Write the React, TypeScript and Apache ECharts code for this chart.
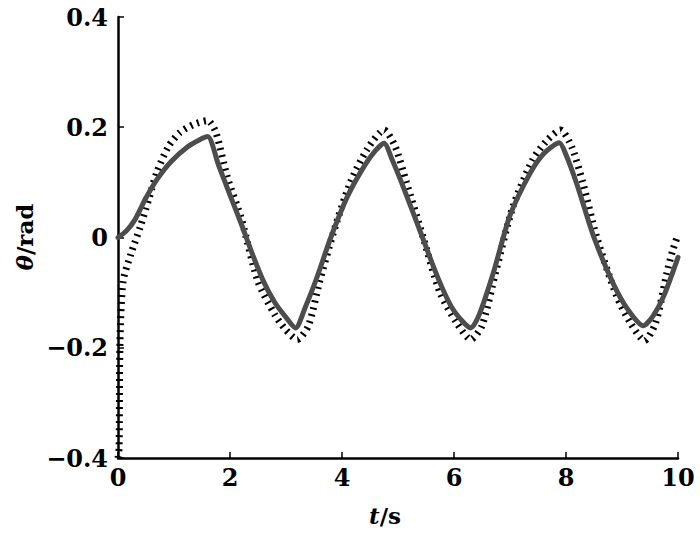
import React, { useEffect, useRef } from "react";
import * as echarts from "echarts";

// Measured angle (solid grey) – [t (s), θ (rad)]
const solidT = [0, 0.15, 0.3, 0.5, 0.7, 0.95, 1.25, 1.45, 1.6, 1.8, 2.0, 2.2, 2.4, 2.6, 2.8, 3.0, 3.17, 3.35, 3.55, 3.8, 4.1, 4.4, 4.6, 4.75, 4.9, 5.1, 5.4, 5.7, 5.95, 6.15, 6.3, 6.45, 6.7, 7.0, 7.35, 7.6, 7.88, 8.0, 8.2, 8.5, 8.85, 9.1, 9.38, 9.55, 9.75, 10];
const solidTheta = [0, 0.012, 0.032, 0.072, 0.106, 0.138, 0.165, 0.177, 0.183, 0.13, 0.077, 0.025, -0.03, -0.08, -0.118, -0.145, -0.164, -0.125, -0.073, 0.0, 0.075, 0.13, 0.158, 0.171, 0.14, 0.09, 0.01, -0.07, -0.125, -0.152, -0.164, -0.14, -0.065, 0.04, 0.115, 0.152, 0.172, 0.15, 0.095, 0.0, -0.085, -0.13, -0.16, -0.143, -0.105, -0.036];

// Reference / estimate (black dotted) – [t (s), θ (rad)]
const dottedT = [0, 0.02, 0.035, 0.09, 0.23, 0.4, 0.55, 0.7, 0.9, 1.1, 1.35, 1.6, 1.75, 1.95, 2.2, 2.5, 2.8, 3.0, 3.2, 3.4, 3.6, 3.85, 4.15, 4.45, 4.75, 4.95, 5.15, 5.45, 5.75, 6.05, 6.3, 6.5, 6.75, 7.05, 7.4, 7.65, 7.9, 8.1, 8.3, 8.55, 8.9, 9.15, 9.4, 9.6, 9.8, 9.9, 10];
const dottedTheta = [-0.4, -0.38, -0.19, -0.08, -0.03, 0.02, 0.07, 0.12, 0.165, 0.19, 0.205, 0.212, 0.19, 0.11, 0.035, -0.08, -0.14, -0.168, -0.185, -0.16, -0.08, 0.01, 0.1, 0.16, 0.195, 0.165, 0.1, 0.0, -0.1, -0.155, -0.185, -0.16, -0.06, 0.055, 0.14, 0.175, 0.195, 0.165, 0.1, 0.0, -0.105, -0.155, -0.187, -0.155, -0.065, -0.025, 0.005];

const xTicks = [0, 2, 4, 6, 8, 10];
const yTicks = [-0.4, -0.2, 0, 0.2, 0.4];

const FONT = "DejaVu Serif";

export default function App() {
  const ref = useRef<HTMLDivElement>(null);
  useEffect(() => {
    if (!ref.current) return;
    const chart = echarts.init(ref.current, undefined, { renderer: "svg" });
    const solid = solidT.map((t, i) => [t, solidTheta[i]]);
    const dotted = dottedT.map((t, i) => [t, dottedTheta[i]]);
    const fmtY = (v: number) => {
      if (Math.abs(v) < 1e-9) return "0";
      const s = Math.abs(v).toFixed(1);
      return v < 0 ? "\u2212" + s : s;
    };
    chart.setOption({
      animation: false,
      backgroundColor: "#ffffff",
      grid: { left: 118, right: 22, top: 17, bottom: 77, containLabel: false },
      xAxis: {
        type: "value",
        min: xTicks[0],
        max: xTicks[xTicks.length - 1],
        interval: 2,
        axisLine: { show: true, onZero: false, lineStyle: { color: "#000", width: 2.5 } },
        axisTick: { show: true, inside: true, length: 6, lineStyle: { color: "#000", width: 1.5 } },
        splitLine: { show: false },
        axisLabel: {
          color: "#000",
          fontFamily: FONT,
          fontWeight: "bold",
          fontSize: 24,
          margin: 7,
          formatter: (v: number) => String(v),
        },
      },
      yAxis: {
        type: "value",
        min: yTicks[0],
        max: yTicks[yTicks.length - 1],
        interval: 0.2,
        axisLine: { show: true, onZero: false, lineStyle: { color: "#000", width: 2.5 } },
        axisTick: { show: true, inside: true, length: 6, lineStyle: { color: "#000", width: 1.5 } },
        splitLine: { show: false },
        axisLabel: {
          color: "#000",
          fontFamily: FONT,
          fontWeight: "bold",
          fontSize: 24,
          margin: 10,
          formatter: fmtY,
        },
      },
      graphic: [
        {
          type: "text",
          x: 385,
          y: 515,
          style: {
            text: "{i|t}{n|/s}",
            align: "center",
            verticalAlign: "middle",
            rich: {
              i: { fontFamily: FONT, fontStyle: "italic", fontWeight: "bold", fontSize: 23, fill: "#000" },
              n: { fontFamily: FONT, fontWeight: "bold", fontSize: 23, fill: "#000" },
            },
          },
        },
        {
          type: "text",
          x: 24,
          y: 237,
          rotation: Math.PI / 2,
          style: {
            text: "{i|θ}{n|/rad}",
            align: "center",
            verticalAlign: "middle",
            rich: {
              i: { fontFamily: FONT, fontStyle: "italic", fontWeight: "bold", fontSize: 23, fill: "#000" },
              n: { fontFamily: FONT, fontWeight: "bold", fontSize: 23, fill: "#000" },
            },
          },
        },
      ],
      series: [
        {
          type: "line",
          data: dotted,
          showSymbol: false,
          smooth: 0.25,
          clip: true,
          z: 2,
          lineStyle: { color: "#000", width: 7, type: [2, 5], cap: "butt" },
        },
        {
          type: "line",
          data: solid,
          showSymbol: false,
          smooth: 0.25,
          clip: true,
          z: 3,
          lineStyle: { color: "#4d4d4d", width: 5, cap: "round", join: "round" },
        },
      ],
    });
    return () => chart.dispose();
  }, []);
  return (
    <div
      ref={ref}
      style={{ position: "fixed", left: 0, top: 0, width: 700, height: 535 }}
    />
  );
}
